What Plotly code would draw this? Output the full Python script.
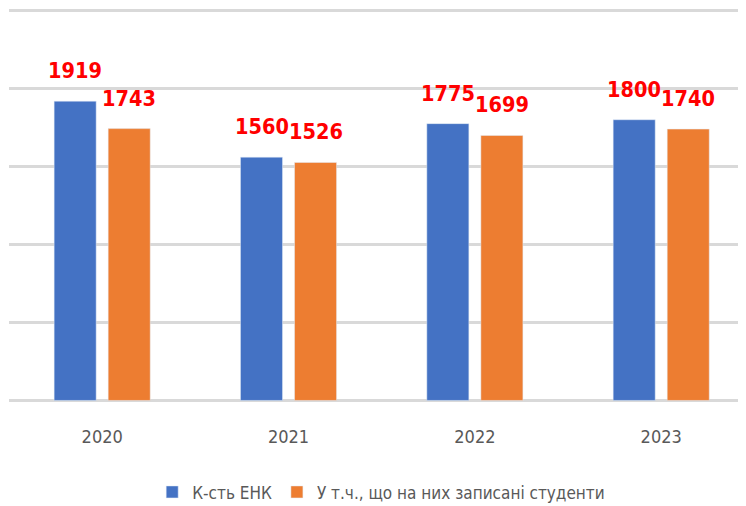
import plotly.graph_objects as go

years = ["2020", "2021", "2022", "2023"]
enk = [1919, 1560, 1775, 1800]
students = [1743, 1526, 1699, 1740]
series_names = ["К-сть ЕНК", "У т.ч., що на них записані студенти"]

BLUE = "#4472C4"
ORANGE = "#ED7D31"
FONT = "Liberation Sans Narrow, DejaVu Sans Condensed, Arial Narrow, sans-serif"

fig = go.Figure()
fig.add_bar(x=years, y=enk, name=series_names[0], marker_color=BLUE)
fig.add_bar(x=years, y=students, name=series_names[1], marker_color=ORANGE)

# data labels as annotations (x given as category index)
for i, (a, b) in enumerate(zip(enk, students)):
    for val, shift in ((a, -27), (b, 27)):
        fig.add_annotation(x=i, y=val, text=str(val), showarrow=False,
                           xshift=shift, yanchor="bottom", yshift=16,
                           font=dict(family=FONT, size=21.5, color="#FF0000", weight="bold"))

fig.update_layout(
    width=738, height=498,
    margin=dict(l=1, r=0, t=1.44, b=104.44, autoexpand=False),
    paper_bgcolor="white", plot_bgcolor="white",
    barmode="group", bargap=0.42, bargroupgap=0.222,
    showlegend=True,
    legend=dict(orientation="h", x=0.505, xanchor="center", y=-0.230, yanchor="middle",
                font=dict(family=FONT, size=17, color="#595959"),
                tracegroupgap=0),
    xaxis=dict(type="category", range=[-0.5, 3.455], showgrid=False, showline=False,
               ticks="", ticklabelstandoff=22,
               tickfont=dict(family=FONT, size=18, color="#595959")),
    yaxis=dict(range=[-10, 2510], dtick=500, tick0=0, showgrid=True, gridcolor="#D9D9D9",
               gridwidth=2.5, zeroline=True, zerolinecolor="#D9D9D9", zerolinewidth=2.5,
               showticklabels=False, ticks="", showline=False),
)

fig.write_html("out.html")
